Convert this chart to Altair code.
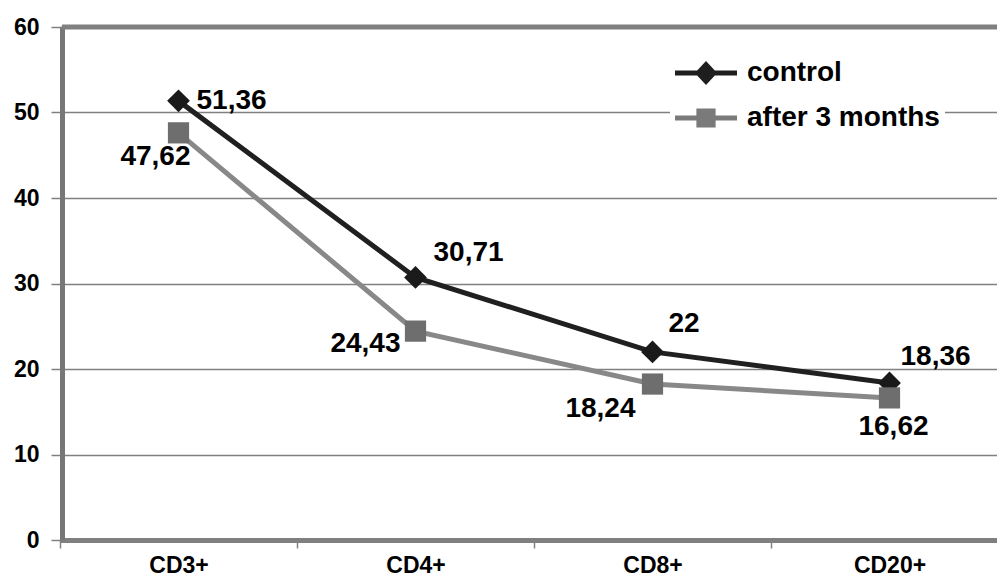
import altair as alt
import pandas as pd

# ---- data -------------------------------------------------------------
categories = ["CD3+", "CD4+", "CD8+", "CD20+"]
series_names = ["control", "after 3 months"]
control_values = [51.36, 30.71, 22, 18.36]
after_values = [47.62, 24.43, 18.24, 16.62]
y_ticks = [0, 10, 20, 30, 40, 50, 60]

# label placement for each point: (align, dx, dy) in pixels
label_place = {
    ("control", "CD3+"): ("left", 18, 0),
    ("control", "CD4+"): ("left", 18, -24),
    ("control", "CD8+"): ("left", 16, -28),
    ("control", "CD20+"): ("left", 11, -26),
    ("after 3 months", "CD3+"): ("right", 12, 24),
    ("after 3 months", "CD4+"): ("right", -15, 13),
    ("after 3 months", "CD8+"): ("right", -17, 25),
    ("after 3 months", "CD20+"): ("center", 4, 29),
}

rows = []
for name, vals in zip(series_names, [control_values, after_values]):
    for cat, v in zip(categories, vals):
        rows.append({
            "series": name,
            "category": cat,
            "value": v,
            "label": f"{v:g}".replace(".", ","),
        })
df = pd.DataFrame(rows)

FONT = "Liberation Sans"
GRAY = "#808080"

line_colors = ["#202020", "#888888"]
point_colors = ["#1a1a1a", "#6e6e6e"]

# legend glyphs: a bar with the series marker on it
legend_paths = [
    "M-1,-0.08L1,-0.08L1,0.08L-1,0.08Z M0,-0.39L0.36,0L0,0.39L-0.36,0Z",
    "M-1,-0.08L1,-0.08L1,0.08L-1,0.08Z M-0.31,-0.31L0.31,-0.31L0.31,0.31L-0.31,0.31Z",
]

x_enc = alt.X(
    "category:N",
    sort=categories,
    scale=alt.Scale(domain=categories, range=[-2, 946], paddingInner=0, paddingOuter=0),
    axis=alt.Axis(
        title=None,
        labelFont=FONT,
        labelFontSize=23,
        labelFontWeight="bold",
        labelColor="black",
        labelAngle=0,
        labelPadding=6,
        domainColor=GRAY,
        domainWidth=5,
        tickColor=GRAY,
        tickWidth=1.5,
        tickSize=8,
        tickBand="extent",
        grid=False,
    ),
)
y_enc = alt.Y(
    "value:Q",
    scale=alt.Scale(domain=[0, 60], nice=False, zero=True),
    axis=alt.Axis(
        title=None,
        values=y_ticks,
        labelFont=FONT,
        labelFontSize=23,
        labelFontWeight="bold",
        labelColor="black",
        labelPadding=12,
        domainColor="#777777",
        domainWidth=5,
        tickColor=GRAY,
        tickWidth=1.5,
        tickSize=11,
        grid=True,
        gridColor=GRAY,
        gridWidth=1.5,
    ),
)

base = alt.Chart(df)

# frame line along the top of the plot at the axis maximum
top_border = alt.Chart(pd.DataFrame({"value": [max(y_ticks)]})).mark_rule(
    color=GRAY, strokeWidth=5
).encode(y=y_enc)

lines = base.mark_line(strokeWidth=5).encode(
    x=x_enc,
    y=y_enc,
    color=alt.Color("series:N", scale=alt.Scale(domain=series_names, range=line_colors), legend=None),
)

points = base.mark_point(filled=True, opacity=1).encode(
    x=x_enc,
    y=y_enc,
    color=alt.Color("series:N", scale=alt.Scale(domain=series_names, range=point_colors), legend=None),
    shape=alt.Shape("series:N", scale=alt.Scale(domain=series_names, range=["diamond", "square"]), legend=None),
    size=alt.Size("series:N", scale=alt.Scale(domain=series_names, range=[520, 450]), legend=None),
)

legend_kw = dict(
    title=None,
    orient="none",
    legendX=608,
    legendY=10,
    labelFont=FONT,
    labelFontSize=28,
    labelFontWeight="bold",
    labelColor="black",
    labelOffset=10,
    labelLimit=400,
    symbolSize=3844,
    symbolStrokeWidth=0,
    symbolOpacity=1,
    rowPadding=-17,
    padding=5,
    fillColor="white",
)

legend_layer = base.mark_point(filled=True, opacity=0).encode(
    x=x_enc,
    y=y_enc,
    color=alt.Color("series:N", scale=alt.Scale(domain=series_names, range=["#1e1e1e", "#7a7a7a"]),
                    sort=series_names, legend=alt.Legend(**legend_kw)),
    shape=alt.Shape("series:N", scale=alt.Scale(domain=series_names, range=legend_paths),
                    sort=series_names, legend=alt.Legend(**legend_kw)),
)

texts = []
for (name, cat), (align, dx, dy) in label_place.items():
    texts.append(
        base.transform_filter(
            (alt.datum.series == name) & (alt.datum.category == cat)
        ).mark_text(
            align=align, baseline="middle", dx=dx, dy=dy,
            font=FONT, fontSize=28, fontWeight="bold", color="black",
        ).encode(x=x_enc, y=y_enc, text="label:N")
    )

chart = alt.layer(
    lines, points, top_border, legend_layer, *texts
).resolve_scale(
    color="independent", shape="independent", size="independent"
).properties(
    width=935,
    height=513,
    autosize=alt.AutoSizeParams(type="none"),
    padding={"left": 62, "top": 27, "right": 0, "bottom": 38},
    background="white",
).configure_view(stroke=None)

chart.save("out.html", embed_options={"renderer": "svg", "actions": False})
